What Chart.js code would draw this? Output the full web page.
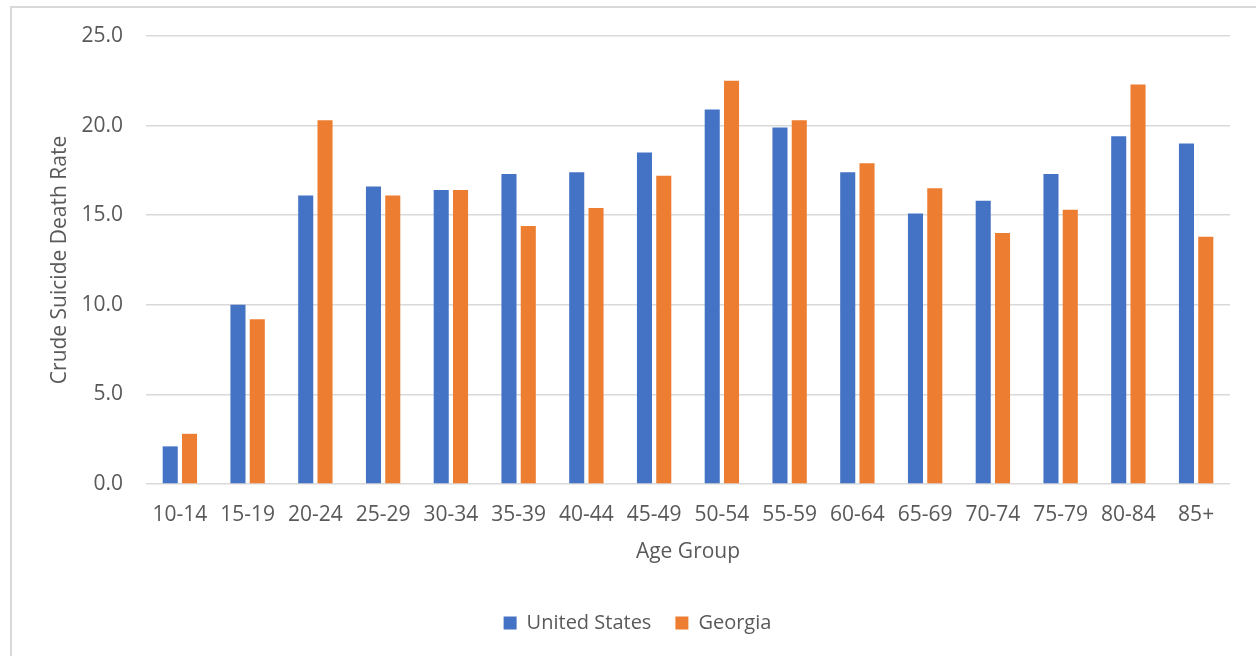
<!DOCTYPE html>
<html>
<head>
<meta charset="utf-8">
<script src="https://cdn.jsdelivr.net/npm/chart.js@4/dist/chart.umd.min.js"></script>
<style>
  html, body { margin: 0; padding: 0; background: #fff; overflow: hidden; width: 1256px; height: 656px; }
  #frame { position: absolute; left: 10px; top: 6px; width: 1300px; height: 700px; border: 2px solid #d9d9d9; box-sizing: border-box; }
  #wrap { position: absolute; left: 0; top: 0; width: 1256px; height: 656px; }
</style>
</head>
<body>
<div id="frame"></div>
<div id="wrap"><canvas id="c" width="1256" height="656"></canvas></div>
<script>
// Crude suicide death rate per 100,000 by age group
const ageGroups = ['10-14', '15-19', '20-24', '25-29', '30-34', '35-39', '40-44', '45-49',
                   '50-54', '55-59', '60-64', '65-69', '70-74', '75-79', '80-84', '85+'];
const usRates = [2.1, 10.0, 16.1, 16.6, 16.4, 17.3, 17.4, 18.5, 20.9, 19.9, 17.4, 15.1, 15.8, 17.3, 19.4, 19.0];
const gaRates = [2.8, 9.2, 20.3, 16.1, 16.4, 14.4, 15.4, 17.2, 22.5, 20.3, 17.9, 16.5, 14.0, 15.3, 22.3, 13.8];
const yTicks = [0, 5, 10, 15, 20, 25];

const TEXT = '#595959';
const GRID = '#d9d9d9';
const FONT = "'Open Sans', sans-serif";

new Chart(document.getElementById('c'), {
  type: 'bar',
  data: {
    labels: ageGroups,
    datasets: [
      { label: 'United States', data: usRates, backgroundColor: '#4472c4' },
      { label: 'Georgia', data: gaRates, backgroundColor: '#ed7d31' }
    ]
  },
  options: {
    responsive: false,
    devicePixelRatio: 1,
    animation: false,
    categoryPercentage: 0.57,
    barPercentage: 0.78,
    layout: { padding: { left: 45, right: 26, top: 36, bottom: 13 } },
    plugins: {
      tooltip: { enabled: false },
      legend: {
        position: 'bottom',
        labels: {
          color: TEXT,
          font: { family: FONT, size: 20 },
          boxWidth: 13,
          boxHeight: 13,
          padding: 24
        }
      }
    },
    scales: {
      x: {
        grid: { display: false, drawTicks: false },
        border: { display: false },
        ticks: { color: TEXT, font: { family: FONT, size: 21 }, padding: 18, maxRotation: 0, autoSkip: false },
        title: {
          display: true, text: 'Age Group', color: TEXT,
          font: { family: FONT, size: 21 }, padding: { top: 0, bottom: 24 }
        },
        afterFit(scale) { scale.height = 105; }
      },
      y: {
        min: 0, max: 25,
        afterBuildTicks(scale) { scale.ticks = yTicks.map(v => ({ value: v })); },
        grid: { color: GRID, lineWidth: 1.5, drawTicks: false },
        border: { display: false },
        ticks: {
          color: TEXT, font: { family: FONT, size: 21 }, padding: 23,
          callback: v => Number(v).toFixed(1)
        },
        title: {
          display: true, text: 'Crude Suicide Death Rate', color: TEXT,
          font: { family: FONT, size: 21 }, padding: { top: 2.4, bottom: 0 }
        },
        afterFit(scale) { scale.width = 101; }
      }
    }
  }
});
</script>
</body>
</html>
